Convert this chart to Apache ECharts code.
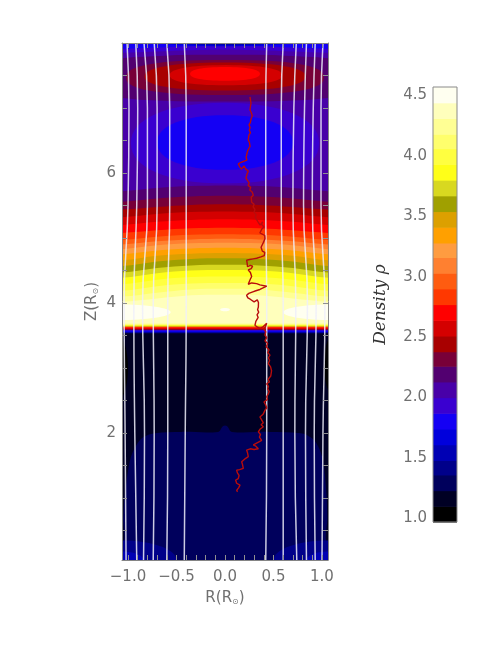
<!DOCTYPE html>
<html>
<head>
<meta charset="utf-8">
<title>Density contours</title>
<script src="https://cdn.jsdelivr.net/npm/echarts@6.0.0/dist/echarts.min.js"></script>
<style>
  html, body { margin: 0; padding: 0; background: #fff; }
  #chart { width: 491px; height: 647px; }
</style>
</head>
<body>
<div id="chart"></div>
<script>
// ---- colour bar: contour levels (bottom to top) and their colours ----
var levels = [0.97, 1.10, 1.23, 1.36, 1.48, 1.61, 1.74, 1.87, 2.00, 2.13, 2.26, 2.38, 2.51, 2.64,
  2.77, 2.90, 3.03, 3.16, 3.28, 3.41, 3.54, 3.67, 3.80, 3.93, 4.06, 4.18, 4.31, 4.44, 4.57];
var bandColors = ['#000000', '#000024', '#00005c', '#00008a', '#0000b4', '#0000dc', '#1400f4',
  '#3a00d0', '#4800a8', '#520070', '#780038', '#a80000', '#d40000', '#ff0000', '#ff3800',
  '#ff5c10', '#ff8030', '#ff9c40', '#ffa000', '#dca000', '#a0a000', '#d8d820', '#ffff18',
  '#ffff40', '#ffff6c', '#ffff94', '#ffffbc', '#fffff0'];
var barLabels = [1.0, 1.5, 2.0, 2.5, 3.0, 3.5, 4.0, 4.5];

// ---- axes ----
var R_MIN = -1.062, R_MAX = 1.062, Z_MIN = 0.05, Z_MAX = 8.0;
var rTicks = [-1.0, -0.9, -0.8, -0.7, -0.6, -0.5, -0.4, -0.3, -0.2, -0.1, 0, 0.1, 0.2, 0.3,
  0.4, 0.5, 0.6, 0.7, 0.8, 0.9, 1.0];
var rLabels = [-1.0, -0.5, 0, 0.5, 1.0];
var zTicks = [0.5, 1, 1.5, 2, 2.5, 3, 3.5, 4, 4.5, 5, 5.5, 6, 6.5, 7, 7.5];
var zLabels = [2, 4, 6];

// ---- contour boundaries ----
// Z of each boundary at these R positions
var edgeR = [-1.062, -0.7, -0.35, 0, 0.35, 0.7, 1.062];
// above the density peak: band index that lies below each boundary
var upperBands = [10, 11, 12, 13, 14, 15, 16, 17, 18, 19, 20, 21, 22, 23, 24, 25, 26, 27];
var upperEdges = [
  [5.72, 5.77, 5.80, 5.81, 5.80, 5.77, 5.72],
  [5.56, 5.61, 5.64, 5.65, 5.64, 5.61, 5.56],
  [5.44, 5.48, 5.51, 5.52, 5.51, 5.48, 5.44],
  [5.32, 5.37, 5.40, 5.41, 5.40, 5.37, 5.32],
  [5.20, 5.25, 5.28, 5.29, 5.28, 5.25, 5.20],
  [5.08, 5.12, 5.15, 5.16, 5.15, 5.12, 5.08],
  [4.97, 5.02, 5.05, 5.06, 5.05, 5.02, 4.97],
  [4.90, 4.95, 4.98, 4.99, 4.98, 4.95, 4.90],
  [4.83, 4.89, 4.92, 4.93, 4.92, 4.89, 4.83],
  [4.75, 4.81, 4.84, 4.85, 4.84, 4.81, 4.75],
  [4.66, 4.73, 4.76, 4.77, 4.76, 4.73, 4.66],
  [4.57, 4.64, 4.68, 4.69, 4.68, 4.64, 4.57],
  [4.47, 4.54, 4.58, 4.59, 4.58, 4.54, 4.47],
  [4.39, 4.46, 4.50, 4.51, 4.50, 4.46, 4.39],
  [4.29, 4.36, 4.40, 4.41, 4.40, 4.36, 4.29],
  [4.19, 4.26, 4.30, 4.31, 4.30, 4.26, 4.19],
  [4.10, 4.16, 4.21, 4.22, 4.21, 4.16, 4.10],
  [4.02, 4.07, 4.12, 4.13, 4.12, 4.07, 4.02]
];
// the sharp front under the peak (flat across R)
var lowerBands = [26, 25, 24, 23, 22, 21, 20, 19, 18, 17, 16, 15, 14, 13, 12, 11, 10, 9, 8, 7, 6, 5, 4, 3, 2];
var lowerEdgeZ = [3.687, 3.676, 3.665, 3.655, 3.651, 3.646, 3.641, 3.637, 3.635, 3.633, 3.631,
  3.629, 3.626, 3.612, 3.600, 3.595, 3.591, 3.587, 3.584, 3.576, 3.565, 3.556, 3.549, 3.541, 3.534];
// band 3 below this edge
var floorEdge = [[-1.062, 0.30], [-1.05, 0.70], [-1.03, 1.08], [-0.98, 1.58], [-0.92, 1.80],
  [-0.84, 1.94], [-0.72, 2.00], [-0.45, 2.02], [-0.07, 2.02], [-0.02, 2.11], [0.02, 2.11],
  [0.07, 2.02], [0.45, 2.02], [0.78, 2.00], [0.89, 1.93], [0.96, 1.80], [1.01, 1.58],
  [1.045, 1.08], [1.055, 0.70], [1.062, 0.30]];
// closed patches: [band, R centre, Z centre, half width, half height, squareness]
var blobs = [
  [4, -1.062, 0.05, 0.56, 0.30, 2], [4, 1.062, 0.05, 0.56, 0.30, 2],
  [5, -1.062, 0.05, 0.22, 0.13, 2], [5, 1.062, 0.05, 0.22, 0.13, 2],
  [1, -1.11, 3.00, 0.11, 0.50, 2], [1, 1.11, 3.05, 0.09, 0.45, 2],
  [28, -1.10, 3.86, 0.54, 0.12, 2], [28, 1.10, 3.86, 0.50, 0.12, 2], [28, 0.0, 3.90, 0.05, 0.025, 2],
  [8, 0.0, 6.46, 0.97, 0.62, 2.2], [7, 0.0, 6.47, 0.70, 0.42, 2.2],
  [10, 0.0, 7.46, 1.45, 0.36, 3], [11, 0.0, 7.47, 1.02, 0.27, 2.5],
  [12, 0.0, 7.485, 0.83, 0.215, 2.3], [13, 0.01, 7.505, 0.58, 0.155, 2.3],
  [14, 0.0, 7.525, 0.36, 0.105, 2.3]
];
// near the top wall: band index above each boundary
var capBands = [9, 8, 7];
var capEdges = [
  [7.78, 7.80, 7.83, 7.84, 7.83, 7.80, 7.78],
  [7.85, 7.87, 7.89, 7.90, 7.89, 7.87, 7.85],
  [7.91, 7.93, 7.95, 7.955, 7.95, 7.93, 7.91]
];
var topBlobs = [[6, 0.0, 8.0, 0.65, 0.05, 2], [5, 0.0, 8.0, 0.45, 0.035, 2], [4, 0.0, 8.0, 0.22, 0.02, 2]];

// ---- magnetic field lines: R at these Z ----
var fieldZ = [0.05, 2, 4, 5.5, 7, 8.0];
var fieldR = [
  [-1.02, -1.03, -1.04, -1.00, -0.99, -1.01],
  [-0.91, -0.93, -0.94, -0.91, -0.90, -0.92],
  [-0.84, -0.83, -0.85, -0.80, -0.80, -0.835],
  [-0.74, -0.73, -0.74, -0.70, -0.70, -0.73],
  [-0.60, -0.59, -0.59, -0.57, -0.57, -0.60],
  [-0.42, -0.41, -0.40, -0.40, -0.40, -0.42],
  [0.42, 0.43, 0.43, 0.42, 0.42, 0.43],
  [0.60, 0.60, 0.60, 0.58, 0.58, 0.60],
  [0.74, 0.72, 0.73, 0.70, 0.71, 0.735],
  [0.84, 0.83, 0.85, 0.81, 0.82, 0.84],
  [0.93, 0.92, 0.94, 0.90, 0.91, 0.93],
  [1.00, 1.01, 1.03, 0.99, 0.99, 1.01]
];

// ---- particle track ----
var trackR = [0.258, 0.262, 0.255, 0.268, 0.250, 0.262, 0.244, 0.258, 0.270, 0.262, 0.281, 0.292, 0.270,
  0.251, 0.262, 0.248, 0.259, 0.250, 0.262, 0.246, 0.254, 0.240, 0.252, 0.246, 0.258, 0.250, 0.236,
  0.228, 0.240, 0.218, 0.226, 0.190, 0.160, 0.137, 0.150, 0.142, 0.170, 0.196, 0.185, 0.215, 0.240,
  0.228, 0.245, 0.216, 0.232,
  0.250, 0.238, 0.265, 0.255, 0.280, 0.292, 0.270, 0.288, 0.275, 0.300, 0.290, 0.309, 0.300, 0.322,
  0.312, 0.330, 0.344, 0.330, 0.362, 0.388, 0.378, 0.402, 0.380, 0.395, 0.360, 0.372, 0.410, 0.430,
  0.412, 0.420,
  0.395, 0.380, 0.372, 0.360, 0.385, 0.410, 0.430, 0.405, 0.370, 0.326, 0.290, 0.255, 0.223, 0.228,
  0.245, 0.232, 0.262, 0.285, 0.270, 0.240, 0.262, 0.248, 0.275, 0.262, 0.250, 0.240, 0.275, 0.326,
  0.360, 0.430, 0.410, 0.360, 0.318, 0.280, 0.245, 0.223, 0.236, 0.260, 0.275, 0.300, 0.333, 0.345,
  0.328, 0.344, 0.336, 0.348, 0.330, 0.342, 0.333, 0.318, 0.300, 0.309, 0.335, 0.360, 0.395, 0.430,
  0.418, 0.400, 0.420, 0.412,
  0.430, 0.412, 0.440, 0.425, 0.455, 0.440, 0.464, 0.447, 0.460, 0.447, 0.470, 0.480, 0.462, 0.472,
  0.445, 0.458, 0.430, 0.448, 0.440, 0.457, 0.445, 0.430, 0.438, 0.402, 0.418, 0.430, 0.412, 0.430,
  0.392, 0.360, 0.376, 0.395, 0.372, 0.395, 0.360, 0.344, 0.366, 0.355, 0.378, 0.340, 0.292, 0.318,
  0.344, 0.300, 0.260, 0.223, 0.232, 0.250, 0.240, 0.210, 0.172, 0.180, 0.200, 0.189, 0.150, 0.120,
  0.128, 0.145, 0.137, 0.110, 0.093, 0.120, 0.155, 0.140, 0.120, 0.130];
var trackZ = [7.17, 7.13, 7.10, 7.07, 7.04, 7.02, 7.00, 6.97, 6.93, 6.91, 6.88, 6.85, 6.84,
  6.82, 6.78, 6.74, 6.70, 6.66, 6.62, 6.58, 6.55, 6.51, 6.47, 6.44, 6.41, 6.38, 6.35,
  6.31, 6.28, 6.24, 6.20, 6.18, 6.16, 6.14, 6.10, 6.07, 6.06, 6.11, 6.08, 6.06, 6.03,
  5.99, 5.96, 5.92, 5.89,
  5.85, 5.81, 5.78, 5.74, 5.71, 5.66, 5.63, 5.60, 5.55, 5.52, 5.48, 5.44, 5.40, 5.36,
  5.32, 5.29, 5.24, 5.21, 5.20, 5.25, 5.21, 5.17, 5.14, 5.11, 5.08, 5.05, 5.04, 5.02,
  4.99, 4.96,
  4.93, 4.90, 4.86, 4.83, 4.80, 4.78, 4.75, 4.73, 4.71, 4.69, 4.68, 4.67, 4.66, 4.62,
  4.60, 4.56, 4.58, 4.57, 4.53, 4.51, 4.47, 4.44, 4.41, 4.37, 4.33, 4.29, 4.31, 4.30,
  4.28, 4.26, 4.23, 4.21, 4.19, 4.17, 4.15, 4.12, 4.08, 4.06, 4.03, 4.02, 4.05, 4.01,
  3.98, 3.94, 3.90, 3.86, 3.82, 3.78, 3.75, 3.72, 3.69, 3.66, 3.63, 3.61, 3.64, 3.69,
  3.64, 3.60, 3.56, 3.51,
  3.47, 3.42, 3.38, 3.33, 3.28, 3.24, 3.20, 3.16, 3.12, 3.07, 3.02, 2.96, 2.93, 2.88,
  2.83, 2.79, 2.76, 2.72, 2.68, 2.64, 2.60, 2.56, 2.52, 2.48, 2.44, 2.39, 2.35, 2.32,
  2.29, 2.25, 2.21, 2.16, 2.13, 2.10, 2.06, 2.02, 1.98, 1.94, 1.89, 1.86, 1.82, 1.80,
  1.76, 1.75, 1.76, 1.74, 1.70, 1.67, 1.64, 1.61, 1.56, 1.52, 1.49, 1.46, 1.44, 1.43,
  1.39, 1.35, 1.30, 1.28, 1.25, 1.23, 1.20, 1.16, 1.12, 1.10];

// ---- build the painted layers (outer first, inner last) ----
function zip(rs, zs) { return rs.map(function (r, j) { return [r, zs[j]]; }); }
var layers = [{ band: 9, kind: 'all' }];
upperBands.forEach(function (b, i) { layers.push({ band: b, kind: 'below', pts: zip(edgeR, upperEdges[i]) }); });
lowerBands.forEach(function (b, i) {
  layers.push({ band: b, kind: 'below', pts: [[R_MIN, lowerEdgeZ[i]], [R_MAX, lowerEdgeZ[i]]] });
});
layers.push({ band: 3, kind: 'below', pts: floorEdge });
blobs.forEach(function (o) { layers.push({ band: o[0], kind: 'blob', blob: o }); });
capBands.forEach(function (b, i) { layers.push({ band: b, kind: 'above', pts: zip(edgeR, capEdges[i]) }); });
topBlobs.forEach(function (o) { layers.push({ band: o[0], kind: 'blob', blob: o }); });

function layerPoints(l) {
  if (l.kind === 'all') {
    return [[R_MIN - 1, Z_MIN - 1], [R_MAX + 1, Z_MIN - 1], [R_MAX + 1, Z_MAX + 1], [R_MIN - 1, Z_MAX + 1]];
  }
  if (l.kind === 'blob') {
    var o = l.blob, out = [], e = 2 / o[5];
    for (var k = 0; k < 64; k++) {
      var t = k / 64 * Math.PI * 2, c = Math.cos(t), s = Math.sin(t);
      out.push([o[1] + o[3] * Math.sign(c) * Math.pow(Math.abs(c), e),
                o[2] + o[4] * Math.sign(s) * Math.pow(Math.abs(s), e)]);
    }
    return out;
  }
  var first = l.pts[0], last = l.pts[l.pts.length - 1];
  var far = l.kind === 'below' ? Z_MIN - 1 : Z_MAX + 1;
  return l.pts.concat([[last[0] + 0.3, last[1]], [last[0] + 0.3, far], [first[0] - 0.3, far], [first[0] - 0.3, first[1]]]);
}

var tickFont = { fontFamily: 'DejaVu Sans', fontSize: 15, color: '#707070' };
function fmt(v) { return (v < 0 ? '\u2212' : '') + Math.abs(v).toFixed(1); }
var frame = { show: true, onZero: false, lineStyle: { color: '#858585', width: 1 } };
var subRich = {
  a: { fontFamily: 'DejaVu Sans', fontSize: 15, color: '#707070' },
  s: { fontFamily: 'DejaVu Sans', fontSize: 8, color: '#707070', padding: [7, 0, 0, 0] }
};

var series = [{
  type: 'custom',
  xAxisIndex: 0, yAxisIndex: 0,
  clip: true,
  silent: true,
  data: layers.map(function (l, i) { return [0, 4, i]; }),
  encode: { x: 0, y: 1 },
  renderItem: function (params, api) {
    var l = layers[params.dataIndex];
    var px = layerPoints(l).map(function (p) { return api.coord(p); });
    return {
      type: 'polygon',
      shape: { points: px, smooth: l.kind === 'blob' || l.kind === 'all' ? 0 : 0.35 },
      style: { fill: bandColors[l.band - 1] }
    };
  },
  z: 1
}];

fieldR.forEach(function (rs) {
  series.push({
    type: 'line', xAxisIndex: 0, yAxisIndex: 0,
    data: zip(rs, fieldZ), smooth: true, showSymbol: false, silent: true,
    lineStyle: { color: 'rgba(238,238,250,0.85)', width: 1.5 }, z: 3
  });
});

series.push({
  type: 'line', xAxisIndex: 0, yAxisIndex: 0,
  data: zip(trackR, trackZ), showSymbol: false, silent: true,
  lineStyle: { color: '#b80c0c', width: 1.4 }, z: 4
});

// colour bar
series.push({
  type: 'custom', xAxisIndex: 2, yAxisIndex: 2, silent: true,
  data: bandColors.map(function (c, k) { return [0, levels[k], levels[k + 1]]; }),
  encode: { x: 0, y: [1, 2] },
  renderItem: function (params, api) {
    var lo = api.coord([0, api.value(1)]), hi = api.coord([1, api.value(2)]);
    return {
      type: 'rect',
      shape: { x: lo[0], y: hi[1], width: hi[0] - lo[0], height: lo[1] - hi[1] + 0.6 },
      style: { fill: bandColors[params.dataIndex] }
    };
  }
});
series.push({
  type: 'custom', xAxisIndex: 2, yAxisIndex: 2, silent: true,
  data: [[0, levels[0]]],
  renderItem: function (params) {
    var cs = params.coordSys;
    return {
      type: 'rect', shape: { x: cs.x, y: cs.y, width: cs.width, height: cs.height },
      style: { fill: 'none', stroke: '#8a8a8a', lineWidth: 1 }
    };
  },
  z: 5
});

var option = {
  backgroundColor: '#ffffff',
  animation: false,
  grid: [
    { left: 122, top: 43, width: 206, height: 517 },
    { left: 433, top: 87, width: 24, height: 435 }
  ],
  xAxis: [
    {
      type: 'value', gridIndex: 0, min: R_MIN, max: R_MAX, position: 'bottom', z: 10,
      axisLine: frame, splitLine: { show: false },
      axisTick: { inside: true, length: 5, customValues: rTicks, lineStyle: { color: '#909090' } },
      axisLabel: Object.assign({ customValues: rLabels, formatter: fmt, margin: 10 }, tickFont),
      name: '{a|R(R}{s|\u2299}{a|)}', nameLocation: 'middle', nameGap: 31,
      nameTextStyle: { rich: subRich }
    },
    {
      type: 'value', gridIndex: 0, min: R_MIN, max: R_MAX, position: 'top', z: 10,
      axisLine: frame, splitLine: { show: false },
      axisTick: { inside: true, length: 5, customValues: rTicks, lineStyle: { color: '#909090' } },
      axisLabel: { show: false }
    },
    { type: 'value', gridIndex: 1, min: 0, max: 1, show: false }
  ],
  yAxis: [
    {
      type: 'value', gridIndex: 0, min: Z_MIN, max: Z_MAX, position: 'left', z: 10,
      axisLine: frame, splitLine: { show: false },
      axisTick: { inside: true, length: 5, customValues: zTicks, lineStyle: { color: '#909090' } },
      axisLabel: Object.assign({ customValues: zLabels, margin: 6 }, tickFont),
      name: '{a|Z(R}{s|\u2299}{a|)}', nameLocation: 'middle', nameGap: 22, nameRotate: 90,
      nameTextStyle: { rich: subRich }
    },
    {
      type: 'value', gridIndex: 0, min: Z_MIN, max: Z_MAX, position: 'right', z: 10,
      axisLine: frame, splitLine: { show: false },
      axisTick: { inside: true, length: 5, customValues: zTicks, lineStyle: { color: '#909090' } },
      axisLabel: { show: false }
    },
    {
      type: 'value', gridIndex: 1, min: levels[0], max: levels[levels.length - 1], position: 'left',
      axisLine: { show: false }, axisTick: { show: false }, splitLine: { show: false },
      axisLabel: Object.assign({ customValues: barLabels, formatter: function (v) { return v.toFixed(1); }, margin: 6 }, tickFont),
      name: 'Density \u03c1', nameLocation: 'middle', nameGap: 44, nameRotate: 90,
      nameTextStyle: { fontFamily: 'DejaVu Serif', fontStyle: 'italic', fontSize: 17, color: '#333' }
    }
  ],
  series: series
};

var chart = echarts.init(document.getElementById('chart'));
chart.setOption(option);
</script>
</body>
</html>
